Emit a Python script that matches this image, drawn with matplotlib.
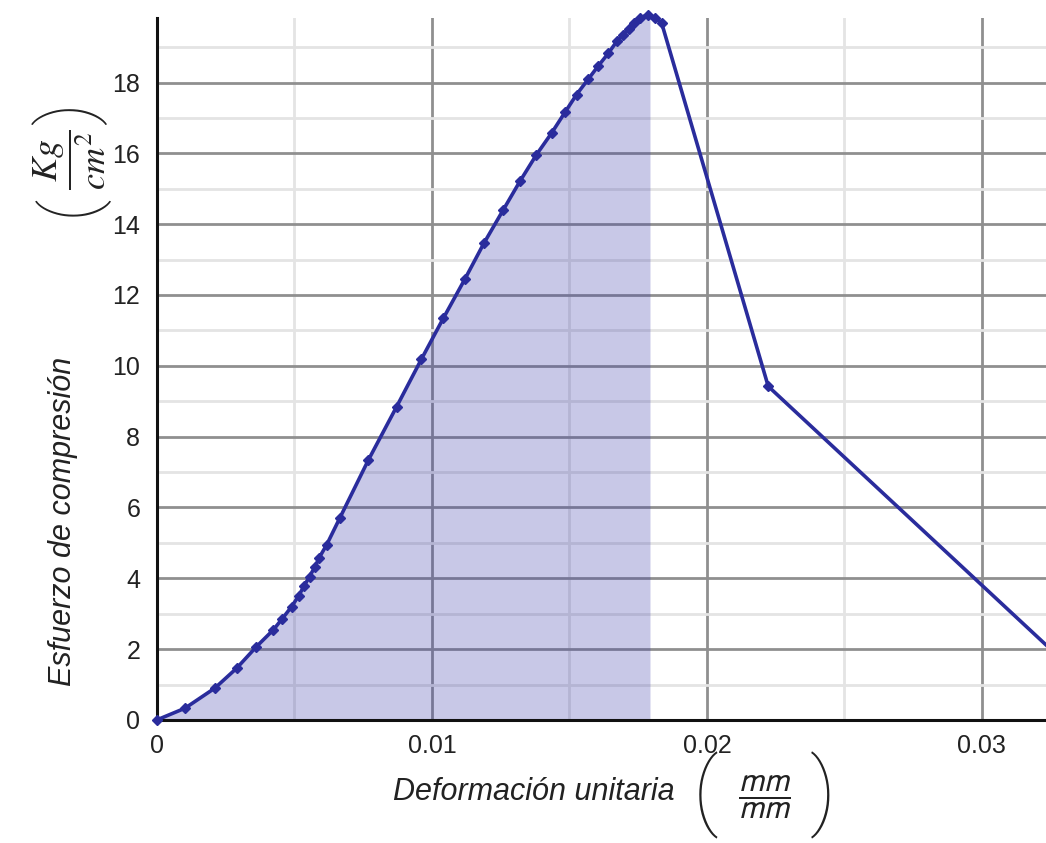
import numpy as np
import matplotlib
matplotlib.use("Agg")
import matplotlib.pyplot as plt
from matplotlib.ticker import MultipleLocator

plt.rcParams["font.family"] = ["Liberation Sans", "DejaVu Sans"]

# deformacion unitaria (x 1e-3) y esfuerzo (Kg/cm2)
strain = np.array([0.00, 1.02, 2.11, 2.90, 3.62, 4.23, 4.55, 4.90, 5.15, 5.35,
                   5.55, 5.75, 5.90, 6.17, 6.65, 7.69, 8.72, 9.62, 10.42, 11.20,
                   11.89, 12.60, 13.20, 13.80, 14.35, 14.84, 15.26, 15.69, 16.05,
                   16.42, 16.72, 16.95, 17.15, 17.35, 17.58, 17.85, 18.11, 18.35,
                   22.23, 34.50]) * 1e-3
stress = np.array([0.00, 0.33, 0.90, 1.46, 2.07, 2.54, 2.85, 3.20, 3.50, 3.78,
                   4.05, 4.33, 4.58, 4.94, 5.70, 7.34, 8.85, 10.19, 11.35, 12.45,
                   13.46, 14.41, 15.21, 15.96, 16.57, 17.16, 17.66, 18.10, 18.47,
                   18.83, 19.16, 19.35, 19.52, 19.68, 19.82, 19.92, 19.83, 19.69,
                   9.42, 0.55])
fill_end = 0.01793

x_ticks = [0, 0.01, 0.02, 0.03]
x_labels = ["0", "0.01", "0.02", "0.03"]
y_ticks = list(range(0, 19, 2))

fig = plt.figure(figsize=(10.46, 8.43), dpi=100)
ax = fig.add_axes([0.150, 0.146, 0.850, 0.833])

ax.set_xlim(0, 0.03233)
ax.set_ylim(0, 19.83)

ax.set_axisbelow(True)
ax.xaxis.set_major_locator(MultipleLocator(0.01))
ax.xaxis.set_minor_locator(MultipleLocator(0.005))
ax.yaxis.set_major_locator(MultipleLocator(2))
ax.yaxis.set_minor_locator(MultipleLocator(1))
ax.grid(which="major", color="#8f8f8f", linewidth=2.0)
ax.grid(which="minor", color="#e4e4e4", linewidth=2.0)

mask = strain <= fill_end
fx = np.append(strain[mask], fill_end)
fy = np.append(stress[mask], np.interp(fill_end, strain, stress))
ax.fill_between(fx, 0, fy, color="#3c3caa", alpha=0.28, linewidth=0, zorder=2)

ax.plot(strain, stress, color="#2a2c9c", linewidth=2.6, marker="D",
        markersize=5, zorder=3, clip_on=False)

ax.set_xticks(x_ticks)
ax.set_xticklabels(x_labels)
ax.set_yticks(y_ticks)
ax.tick_params(which="both", length=0, labelsize=18, colors="#222222")
ax.tick_params(axis="x", pad=10)
ax.tick_params(axis="y", pad=12)

for s in ["top", "right"]:
    ax.spines[s].set_visible(False)
ax.spines["left"].set_linewidth(2.2)
ax.spines["bottom"].set_linewidth(2.2)
ax.spines["left"].set_color("#111111")
ax.spines["bottom"].set_color("#111111")

txt = dict(color="#222222", ha="center", va="center")
paren = dict(family=["Roboto", "DejaVu Sans"], weight="light", **txt)

# etiqueta eje y
fig.text(0.060, 0.381, "Esfuerzo de compresión", rotation=90, fontsize=22,
         style="italic", **txt)
fig.text(0.067, 0.810, r"$\dfrac{Kg}{cm^2}$", rotation=90, fontsize=26,
         math_fontfamily="stix", **txt)
fig.text(0.066, 0.757, "(", rotation=90, fontsize=54, **paren)
fig.text(0.066, 0.866, ")", rotation=90, fontsize=54, **paren)

# etiqueta eje x
fig.text(0.510, 0.060, "Deformación unitaria", fontsize=22, style="italic", **txt)
fig.text(0.7305, 0.0546, r"$\dfrac{mm}{mm}$", fontsize=24,
         math_fontfamily="stixsans", **txt)
fig.text(0.674, 0.0560, "(", fontsize=62, **paren)
fig.text(0.787, 0.0560, ")", fontsize=62, **paren)

fig.savefig("out.png", dpi=100)
